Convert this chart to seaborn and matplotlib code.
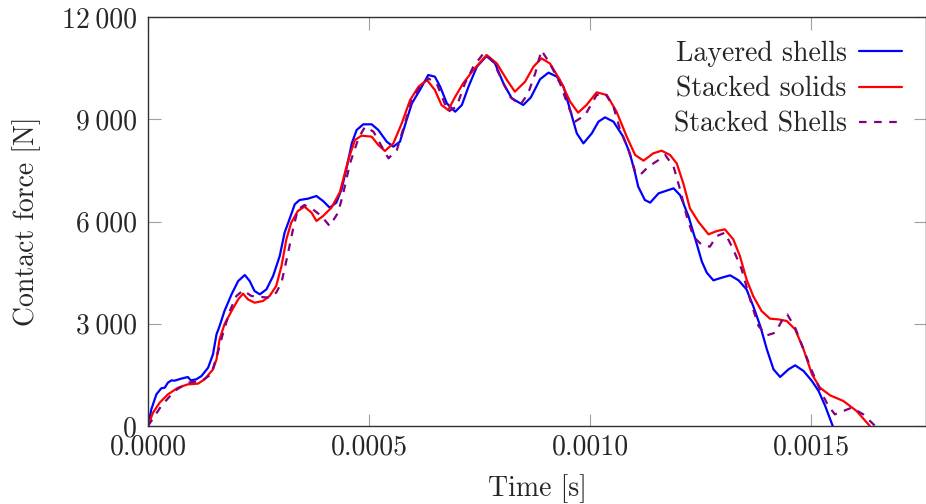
import matplotlib
matplotlib.use("Agg")
import matplotlib.pyplot as plt
import seaborn as sns
import pandas as pd

# ---------------- data (time in s, force in N) ----------------
t_layered = [0, 7.5e-6, 1.9e-5, 3.0e-5, 3.8e-5, 4.5e-5, 5.3e-5, 6.0e-5, 7.5e-5, 9.0e-5,
             9.7e-5, 1.09e-4, 1.21e-4, 1.36e-4, 1.47e-4, 1.55e-4, 1.62e-4, 1.73e-4, 1.89e-4, 2.04e-4,
             2.19e-4, 2.30e-4, 2.41e-4, 2.53e-4, 2.68e-4, 2.83e-4, 2.98e-4, 3.09e-4, 3.20e-4, 3.32e-4,
             3.43e-4, 3.62e-4, 3.81e-4, 3.96e-4, 4.11e-4, 4.26e-4, 4.38e-4, 4.50e-4, 4.61e-4, 4.72e-4,
             4.87e-4, 5.06e-4, 5.21e-4, 5.40e-4, 5.55e-4, 5.70e-4, 5.85e-4, 5.97e-4, 6.15e-4, 6.34e-4,
             6.49e-4, 6.61e-4, 6.76e-4, 6.95e-4, 7.10e-4, 7.25e-4, 7.44e-4, 7.66e-4, 7.85e-4, 8.04e-4,
             8.23e-4, 8.49e-4, 8.66e-4, 8.87e-4, 9.06e-4, 9.25e-4, 9.40e-4, 9.55e-4, 9.70e-4, 9.85e-4,
             1.004e-3, 1.019e-3, 1.034e-3, 1.053e-3, 1.075e-3, 1.090e-3, 1.102e-3, 1.109e-3, 1.124e-3, 1.136e-3,
             1.155e-3, 1.173e-3, 1.189e-3, 1.204e-3, 1.223e-3, 1.241e-3, 1.253e-3, 1.264e-3, 1.279e-3, 1.298e-3,
             1.317e-3, 1.336e-3, 1.354e-3, 1.369e-3, 1.385e-3, 1.400e-3, 1.415e-3, 1.430e-3, 1.449e-3, 1.464e-3,
             1.483e-3, 1.502e-3, 1.517e-3, 1.532e-3, 1.549e-3]
f_layered = [0, 489, 929, 1105, 1125, 1271, 1339, 1330, 1389, 1437,
             1339, 1369, 1467, 1711, 2103, 2690, 2934, 3374, 3863, 4254,
             4430, 4254, 3961, 3863, 4010, 4401, 4988, 5672, 6064, 6504,
             6631, 6670, 6748, 6602, 6406, 6553, 6950, 7609, 8293, 8685,
             8851, 8851, 8685, 8342, 8196, 8342, 8978, 9467, 9858, 10298,
             10249, 9956, 9467, 9222, 9418, 9956, 10542, 10856, 10640, 10054,
             9613, 9418, 9640, 10175, 10367, 10250, 9956, 9271, 8587, 8293,
             8587, 8929, 9056, 8929, 8489, 8000, 7413, 7022, 6631, 6553,
             6826, 6905, 6973, 6768, 6142, 5359, 4822, 4499, 4274, 4352,
             4421, 4274, 4010, 3521, 2934, 2249, 1662, 1438, 1662, 1780,
             1614, 1320, 1027, 587, 0]

t_solids = [0, 1.13e-5, 2.64e-5, 4.5e-5, 6.8e-5, 9.0e-5, 1.13e-4, 1.28e-4, 1.47e-4, 1.55e-4,
            1.62e-4, 1.73e-4, 1.89e-4, 2.04e-4, 2.15e-4, 2.26e-4, 2.41e-4, 2.60e-4, 2.75e-4, 2.90e-4,
            3.02e-4, 3.13e-4, 3.24e-4, 3.39e-4, 3.54e-4, 3.70e-4, 3.81e-4, 3.96e-4, 4.15e-4, 4.34e-4,
            4.53e-4, 4.68e-4, 4.83e-4, 5.06e-4, 5.21e-4, 5.36e-4, 5.55e-4, 5.74e-4, 5.93e-4, 6.12e-4,
            6.31e-4, 6.49e-4, 6.64e-4, 6.79e-4, 6.95e-4, 7.13e-4, 7.36e-4, 7.66e-4, 7.89e-4, 8.12e-4,
            8.30e-4, 8.53e-4, 8.72e-4, 8.90e-4, 9.09e-4, 9.32e-4, 9.55e-4, 9.73e-4, 9.92e-4, 1.015e-3,
            1.038e-3, 1.060e-3, 1.083e-3, 1.102e-3, 1.121e-3, 1.143e-3, 1.162e-3, 1.181e-3, 1.196e-3, 1.211e-3,
            1.226e-3, 1.245e-3, 1.268e-3, 1.287e-3, 1.305e-3, 1.324e-3, 1.339e-3, 1.354e-3, 1.369e-3, 1.388e-3,
            1.407e-3, 1.426e-3, 1.445e-3, 1.464e-3, 1.483e-3, 1.502e-3, 1.520e-3, 1.543e-3, 1.573e-3, 1.603e-3,
            1.633e-3]
f_solids = [0, 391, 684, 929, 1124, 1222, 1242, 1369, 1662, 1956,
            2543, 2983, 3374, 3716, 3883, 3716, 3618, 3667, 3814, 4108,
            4694, 5477, 5966, 6308, 6435, 6259, 6015, 6161, 6406, 6860,
            7804, 8391, 8518, 8489, 8245, 8069, 8293, 8880, 9565, 9956,
            10152, 9858, 9418, 9271, 9662, 10054, 10445, 10885, 10640, 10152,
            9809, 10102, 10542, 10787, 10640, 10152, 9516, 9193, 9418, 9790,
            9711, 9222, 8489, 7951, 7785, 8000, 8078, 7951, 7707, 7120,
            6386, 5995, 5623, 5721, 5770, 5477, 4988, 4303, 3814, 3374,
            3149, 3129, 3080, 2836, 2249, 1516, 1125, 900, 734, 440,
            0]

t_shells = [0, 3.0e-5, 6.0e-5, 9.0e-5, 1.21e-4, 1.43e-4, 1.58e-4, 1.70e-4, 1.85e-4, 2.00e-4,
            2.15e-4, 2.34e-4, 2.56e-4, 2.75e-4, 2.90e-4, 3.02e-4, 3.17e-4, 3.28e-4, 3.39e-4, 3.54e-4,
            3.73e-4, 3.92e-4, 4.11e-4, 4.30e-4, 4.41e-4, 4.57e-4, 4.76e-4, 4.91e-4, 5.10e-4, 5.29e-4,
            5.44e-4, 5.63e-4, 5.81e-4, 5.97e-4, 6.15e-4, 6.34e-4, 6.53e-4, 6.68e-4, 6.79e-4, 6.98e-4,
            7.17e-4, 7.36e-4, 7.59e-4, 7.81e-4, 8.04e-4, 8.19e-4, 8.42e-4, 8.60e-4, 8.76e-4, 8.90e-4,
            9.09e-4, 9.32e-4, 9.51e-4, 9.66e-4, 9.89e-4, 1.015e-3, 1.034e-3, 1.053e-3, 1.068e-3, 1.087e-3,
            1.102e-3, 1.113e-3, 1.132e-3, 1.155e-3, 1.170e-3, 1.189e-3, 1.204e-3, 1.219e-3, 1.234e-3, 1.253e-3,
            1.271e-3, 1.287e-3, 1.305e-3, 1.324e-3, 1.343e-3, 1.362e-3, 1.381e-3, 1.400e-3, 1.419e-3, 1.438e-3,
            1.446e-3, 1.464e-3, 1.483e-3, 1.502e-3, 1.520e-3, 1.539e-3, 1.554e-3, 1.573e-3, 1.592e-3, 1.618e-3,
            1.645e-3]
f_shells = [0, 587, 1027, 1271, 1320, 1516, 2152, 2739, 3374, 3814,
            3980, 3814, 3785, 3765, 3912, 4205, 5086, 5770, 6357, 6484,
            6357, 6161, 5868, 6259, 6790, 7707, 8440, 8782, 8636, 8196,
            7853, 8098, 8880, 9565, 9956, 10200, 10054, 9565, 9222, 9369,
            10054, 10542, 10934, 10690, 10054, 9662, 9418, 9760, 10347, 11020,
            10640, 10054, 9369, 8929, 9125, 9711, 9760, 9369, 8685, 8098,
            7462, 7364, 7609, 7804, 7951, 7609, 6924, 6142, 5555, 5311,
            5262, 5575, 5672, 5183, 4596, 3716, 2934, 2660, 2739, 3179,
            3276, 2885, 2249, 1614, 1075, 587, 342, 440, 538, 342,
            0]

series_names = ["Layered shells", "Stacked solids", "Stacked Shells"]
x_ticks = [0.0, 0.0005, 0.0010, 0.0015]
x_tick_labels = ["0.0000", "0.0005", "0.0010", "0.0015"]
y_ticks = [0, 3000, 6000, 9000, 12000]
y_tick_labels = ["0", "3\u2009000", "6\u2009000", "9\u2009000", "12\u2009000"]

# ---------------- style ----------------
sns.set_style("ticks")
plt.rcParams["font.family"] = ["cmr10", "DejaVu Serif"]
plt.rcParams["mathtext.fontset"] = "cm"
plt.rcParams["axes.formatter.use_mathtext"] = True
plt.rcParams["axes.unicode_minus"] = False

fig = plt.figure(figsize=(9.26, 5.04), dpi=100)
ax = fig.add_axes([148 / 926, 78 / 504, 778 / 926, 409 / 504])

df1 = pd.DataFrame({"t": t_layered, "f": f_layered})
df2 = pd.DataFrame({"t": t_solids, "f": f_solids})
df3 = pd.DataFrame({"t": t_shells, "f": f_shells})

sns.lineplot(data=df1, x="t", y="f", ax=ax, color=(0, 0, 1), lw=1.6, label=series_names[0])
sns.lineplot(data=df2, x="t", y="f", ax=ax, color=(1, 0, 0), lw=1.6, label=series_names[1])
sns.lineplot(data=df3, x="t", y="f", ax=ax, color=(0.5, 0, 0.5), lw=1.6, label=series_names[2])
ax.lines[2].set_dashes((3.4, 3.4))
for ln in ax.lines:
    ln.set_solid_joinstyle("round")
    ln.set_dash_joinstyle("round")

ax.set_xlim(0, 0.00176)
ax.set_ylim(0, 12000)
ax.set_xticks(x_ticks)
ax.set_xticklabels(x_tick_labels)
ax.set_yticks(y_ticks)
ax.set_yticklabels(y_tick_labels)

ax.tick_params(axis="both", which="both", direction="in", length=9, width=0.8,
               color="#a0a0a0", labelsize=20, top=True, right=True)
ax.tick_params(axis="y", pad=8)
ax.tick_params(axis="x", pad=6)
for s in ax.spines.values():
    s.set_color("#303030")
    s.set_linewidth(1.0)

ax.set_xlabel("Time [s]", fontsize=20, labelpad=10)
ax.set_ylabel("Contact force [N]", fontsize=20, labelpad=15)

handles, labels = ax.get_legend_handles_labels()
handles[2].set_dashes((3.4, 3.4))
leg = ax.legend(handles, labels, loc="upper right", frameon=False, markerfirst=False,
                fontsize=20, handlelength=1.55, handletextpad=0.45, labelspacing=0.33,
                borderaxespad=0.5, borderpad=0.35)
for txt in leg.get_texts():
    txt.set_ha("right")

fig.savefig("out.png", dpi=100)
